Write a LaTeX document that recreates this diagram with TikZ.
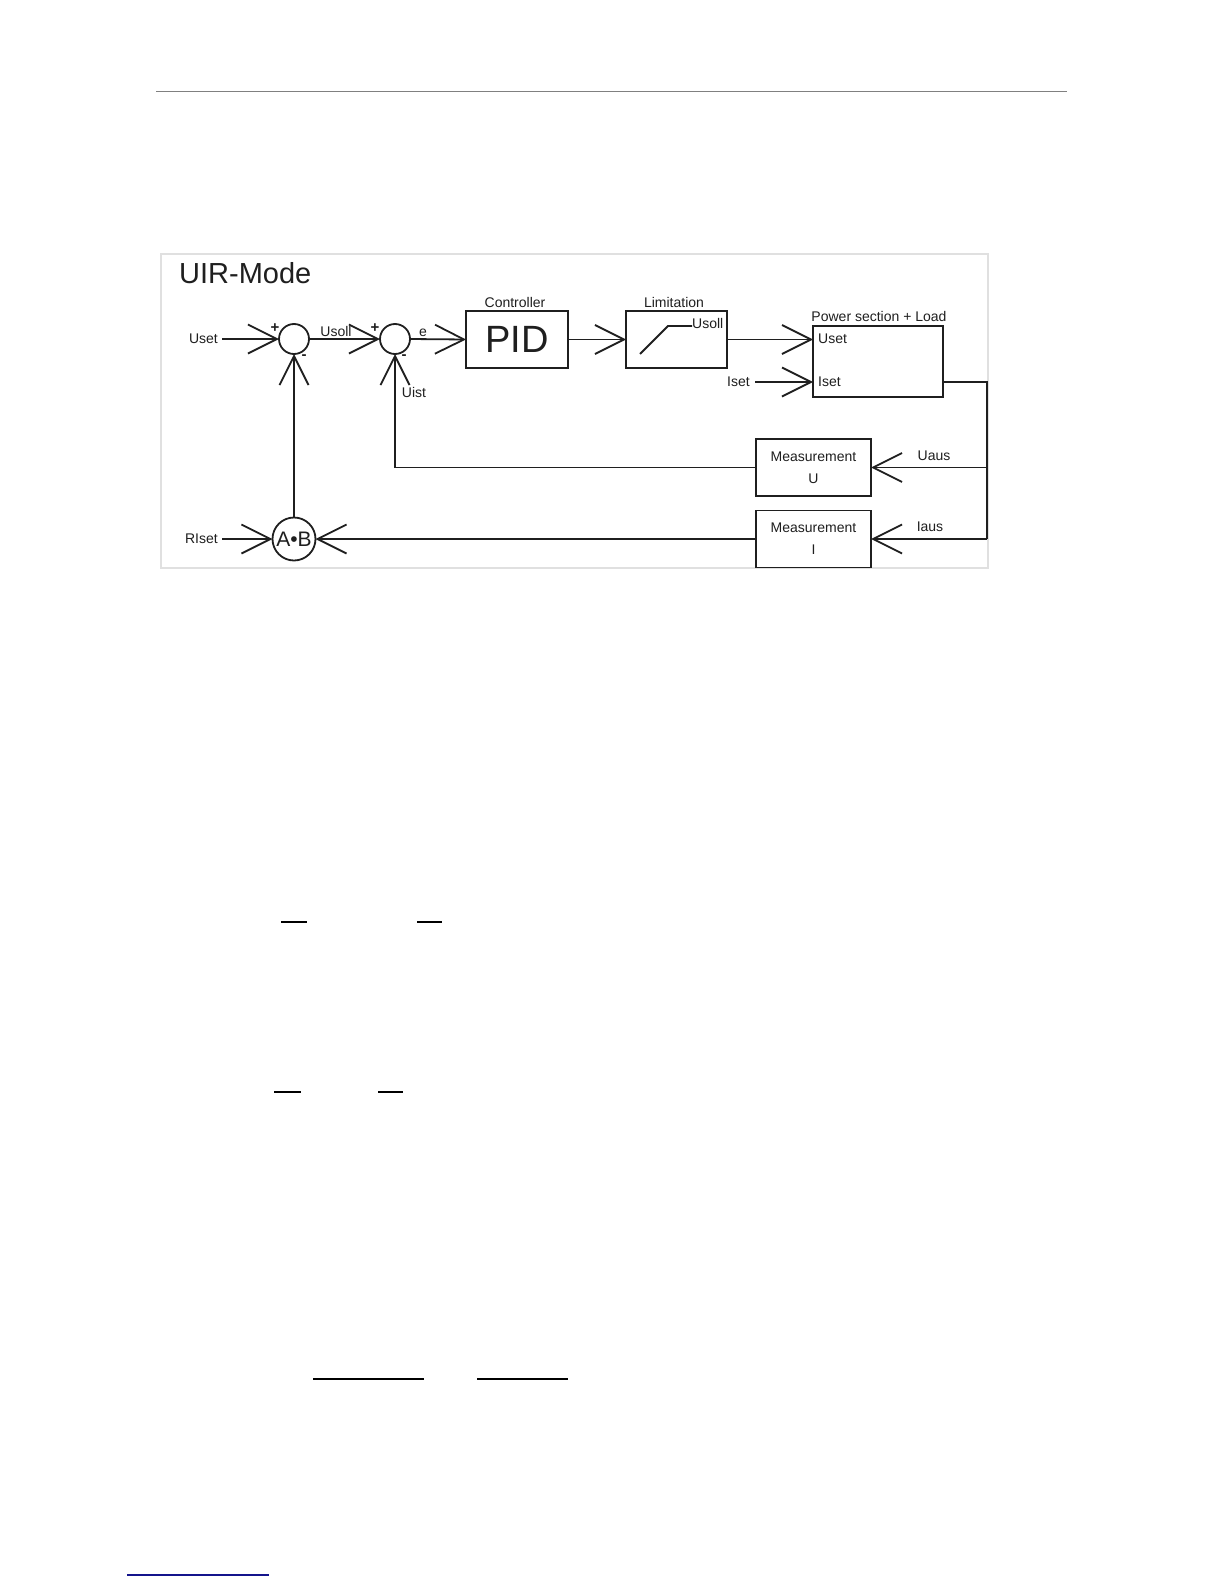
\documentclass[tikz,border=0pt]{standalone}
\usepackage{fontspec}
\setmainfont{Liberation Sans}
\usetikzlibrary{arrows.meta}
\definecolor{ink}{gray}{0.12}
\definecolor{framec}{gray}{0.88}
\definecolor{navyline}{RGB}{20,20,140}
\tikzset{
  ln/.style={line width=1.8pt, draw=ink},
  arr/.style={ln, -{Straight Barb[length=29pt,width=29pt,line width=1.8pt]}},
  blk/.style={rectangle, draw=ink, line width=1.8pt, inner sep=0pt, outer sep=0pt},
  sumc/.style={circle, draw=ink, line width=1.8pt, inner sep=0pt, outer sep=0pt, minimum size=30pt},
  lbl/.style={font=\fontsize{14}{16}\selectfont, text=ink, inner sep=0pt},
  sgn/.style={font=\fontsize{15}{16}\selectfont\bfseries, text=ink, inner sep=0pt},
  bar/.style={line width=1.2pt, draw=black},
}
\begin{document}
\begin{tikzpicture}[x=1pt,y=-1pt]
\useasboundingbox[fill=white] (0,0) rectangle (1224,1584);
% page header rule
\draw[line width=1pt, draw=gray] (156,92) -- (1067,92);
% diagram frame
\draw[draw=framec, line width=1.5pt] (161,254) rectangle (988,568);
\node[anchor=base west, font=\fontsize{29}{32}\selectfont, text=ink, inner sep=0pt] (title) at (179,283) {UIR-Mode};

% blocks
\node[sumc] (sum1) at (294,339) {};
\node[sumc] (sum2) at (395,339) {};
\node[blk, minimum width=102pt, minimum height=57pt, font=\fontsize{38}{40}\selectfont, text=ink] (pid) at (517,339.5) {PID};
\node[blk, minimum width=101pt, minimum height=57pt] (lim) at (676.5,339.5) {};
\node[blk, minimum width=130pt, minimum height=71pt] (pow) at (878,361.5) {};
\node[blk, minimum width=115pt, minimum height=57pt, lbl, align=center, font=\fontsize{14}{22}\selectfont] (measU) at (813.5,467.5) {Measurement\\U};
\node[blk, minimum width=115pt, minimum height=57pt, lbl, align=center, font=\fontsize{14}{22}\selectfont] (measI) at (813.5,539) {Measurement\\I};
\node[sumc, minimum size=43pt, font=\fontsize{21}{22}\selectfont, text=ink] (ab) at (294,539) {A•B};

% block titles
\node[lbl] (tctrl) at (515,302) {Controller};
\node[lbl] (tlim) at (674,302) {Limitation};
\node[lbl] (tpow) at (879,316) {Power section + Load};

% limitation characteristic
\coordinate (r1) at (640,354);
\coordinate (r2) at (668,326);
\coordinate (r3) at (692,326);
\draw[ln] (r1) -- (r2) -- (r3);
\node[lbl, anchor=west] (usollin) at (692,323) {Usoll};

% inputs inside power block
\node[lbl, anchor=west] (pu) at (818,339) {Uset};
\node[lbl, anchor=west] (pi) at (818,382) {Iset};

% external inputs
\node[lbl, anchor=east, inner xsep=4pt] (uset) at (222,339) {Uset};
\node[lbl, anchor=east, inner xsep=4pt] (rlset) at (222,539) {RIset};
\node[lbl, anchor=east, inner xsep=5pt] (iset) at (755,382) {Iset};

% signal labels
\node[lbl] (lusoll) at (336,331) {Usoll};
\node[lbl] (le) at (423,333) {e};
\node[lbl] (luist) at (414,392) {Uist};
\node[lbl] (luaus) at (934,456) {Uaus};
\node[lbl] (liaus) at (930,527) {Iaus};
\node[sgn] (p1) at (275,328) {+};
\node[sgn] (m1) at (304,357) {-};
\node[sgn] (p2) at (375,328) {+};
\node[sgn] (m2) at (404,357) {-};

% forward path
\draw[arr] (uset.east) -- (sum1.west);
\draw[arr] (sum1.east) -- (sum2.west);
\draw[arr] (sum2.east) -- (pid.west);
\draw[arr] (pid.east) -- (lim.west);
\draw[arr] (lim.east) -- (lim.east -| pow.west);
\draw[arr] (iset.east) -- (iset.east -| pow.west);

% feedback
\coordinate (rt) at (987,382);
\draw[ln] (pow.east |- iset) -- (rt) -- (rt |- measI.east);
\draw[arr] (rt |- measU.east) -- (measU.east);
\draw[arr] (rt |- measI.east) -- (measI.east);
\draw[arr] (measU.west) -| (sum2.south);
\draw[arr] (measI.west) -- (ab.east);
\draw[arr] (rlset.east) -- (ab.west);
\draw[arr] (ab.north) -- (sum1.south);

% stray rules from the page
\draw[bar] (281,922) -- (307,922);
\draw[bar] (417,922) -- (442,922);
\draw[bar] (274,1092) -- (301,1092);
\draw[bar] (378,1092) -- (403,1092);
\draw[bar] (313,1379) -- (424,1379);
\draw[bar] (477,1379) -- (568,1379);
\draw[line width=1.3pt, draw=navyline] (127,1575) -- (269,1575);
\end{tikzpicture}
\end{document}
